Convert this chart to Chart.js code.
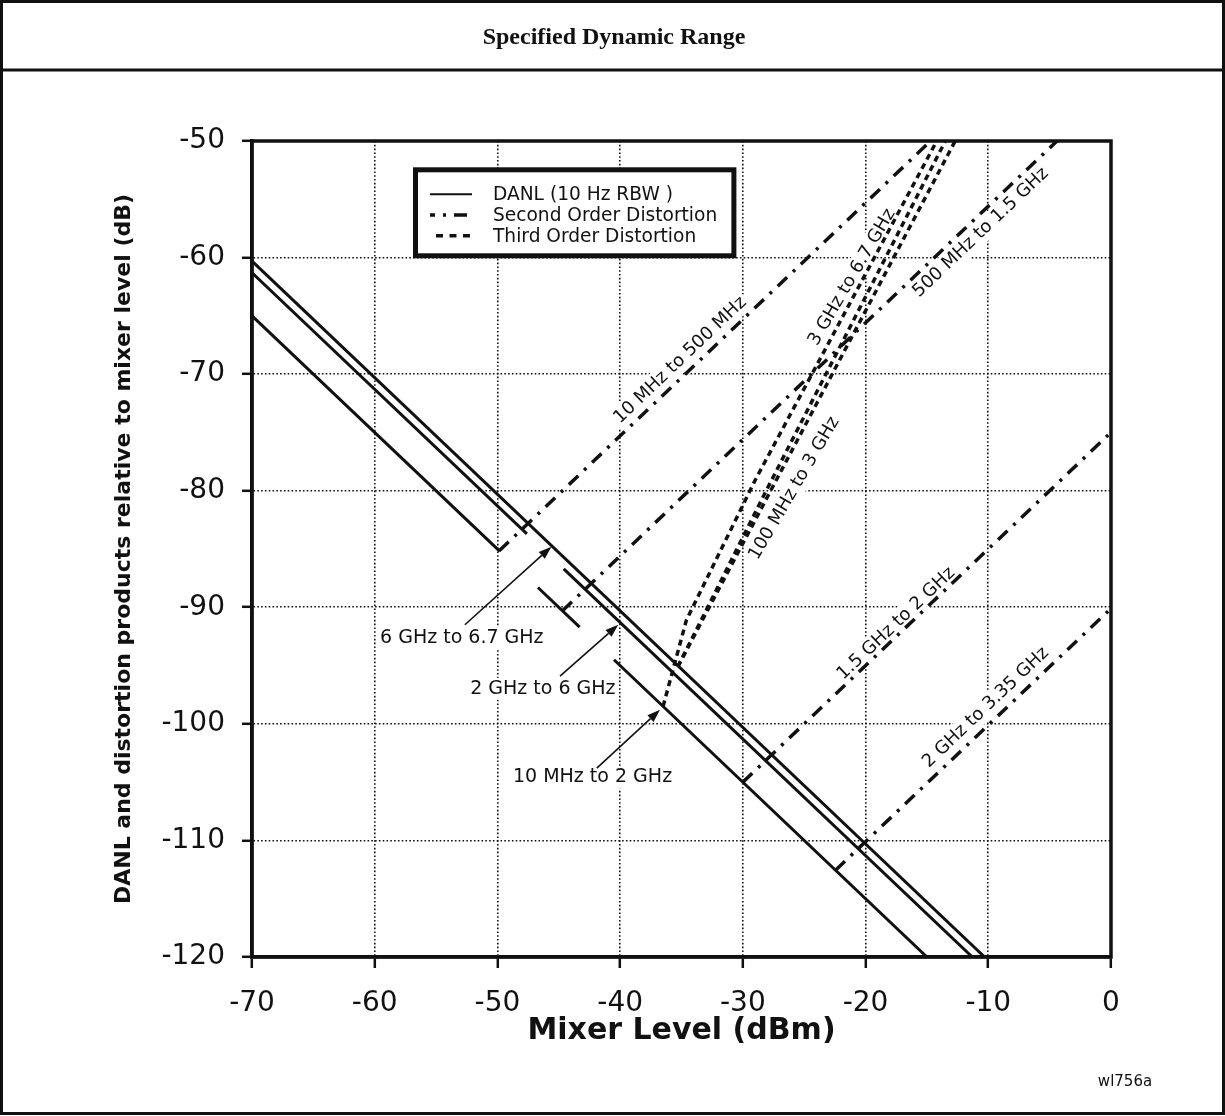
<!DOCTYPE html>
<html>
<head>
<meta charset="utf-8">
<title>Specified Dynamic Range</title>
<script src="https://cdn.jsdelivr.net/npm/chart.js@4.4.0/dist/chart.umd.min.js"></script>
<style>
  body { margin: 0; background: #fff; }
  canvas { display: block; }
</style>
</head>
<body>
<canvas id="grafico" width="1225" height="1116"></canvas>
<script>
// DANL (10 Hz RBW), x = mixer level (dBm), y = dB; null leaves a gap
const danl6a67X = [-70, -10.3];
const danl6a67Y = [-60.3, -120];
const danl2a6X = [-70, -47.6, -46, -44.6, -11.3];
const danl2a6Y = [-61.3, -83.7, null, -86.7, -120];
const danl10a2X = [-70, -49.8, -48, -46.7, -43.3, -42, -40.5, -15];
const danl10a2Y = [-65, -85.2, null, -88.3, -91.7, null, -94.5, -120];

// second order distortion
const so10a500X = [-49.85, -14.7];
const so10a500Y = [-85.15, -50];
const so500a15X = [-44.7, -4.4];
const so500a15Y = [-90.3, -50];
const so15a2X = [-30, 0];
const so15a2Y = [-105, -75];
const so2a335X = [-22.45, 0];
const so2a335Y = [-112.55, -90.1];

// third order distortion
const to1X = [-36.5, -34.6, -29.0, -14.2];
const to1Y = [-98.5, -91.1, -79.1, -50];
const to2X = [-35.3, -28.05, -13.5];
const to2Y = [-95.1, -79.9, -50];
const to3X = [-35.3, -12.7];
const to3Y = [-95.1, -50];

// ticks
const xTicks = [-70, -60, -50, -40, -30, -20, -10, 0];
const yTicks = [-120, -110, -100, -90, -80, -70, -60, -50];

// labels along the lines
const rotuloTexto = ["10 MHz to 500 MHz", "500 MHz to 1.5 GHz", "1.5 GHz to 2 GHz", "2 GHz to 3.35 GHz", "3 GHz to 6.7 GHz", "100 MHz to 3 GHz"];
const rotuloX = [-35.1, -10.6, -17.5, -10.2, -21.1, -25.8];
const rotuloY = [-68.8, -57.85, -91.4, -98.6, -61.7, -79.8];
const rotuloInclinacao = [1, 1, 1, 1, 1.8, 1.8];

// DANL labels with arrows
const setaTexto = ["6 GHz to 6.7 GHz", "2 GHz to 6 GHz", "10 MHz to 2 GHz"];
const setaTextoX = [-52.9, -46.3, -42.25];
const setaTextoY = [-92.65, -97.0, -104.6];
const setaX0 = [-52.65, -44.9, -41.9];
const setaY0 = [-91.5, -95.9, -103.8];
const setaX1 = [-45.6, -40.15, -36.75];
const setaY1 = [-84.8, -91.5, -98.8];

const legendaTexto = ["DANL (10 Hz RBW )", "Second Order Distortion", "Third Order Distortion"];

const corTinta = "#111";
const fonteSans = "DejaVu Sans";

const pontos = (xs, ys) => xs.map((x, i) => ({ x: x, y: ys[i] }));

const estiloDanl = { borderWidth: 3 };
const estiloSegunda = { borderWidth: 3.5, borderDash: [13, 8, 3, 8] };
const estiloTerceira = { borderWidth: 3.5, borderDash: [6, 4.5] };

function serie(label, xs, ys, estilo) {
  return Object.assign(
    {
      label: label,
      data: pontos(xs, ys),
      showLine: true,
      pointRadius: 0,
      pointHoverRadius: 0,
      borderColor: corTinta,
      backgroundColor: corTinta,
      fill: false,
      tension: 0,
      spanGaps: false,
    },
    estilo
  );
}

function pixel(chart, x, y) {
  return [chart.scales.x.getPixelForValue(x), chart.scales.y.getPixelForValue(y)];
}

function anguloDe(chart, inclinacao) {
  var dx = chart.scales.x.getPixelForValue(10) - chart.scales.x.getPixelForValue(0);
  var dy = chart.scales.y.getPixelForValue(inclinacao * 10) - chart.scales.y.getPixelForValue(0);
  return Math.atan2(dy, dx);
}

function cadaRotulo(chart, fn) {
  for (var i = 0; i < rotuloTexto.length; i++) {
    var p = pixel(chart, rotuloX[i], rotuloY[i]);
    fn(rotuloTexto[i], p[0], p[1], anguloDe(chart, rotuloInclinacao[i]), 18);
  }
  for (var j = 0; j < setaTexto.length; j++) {
    var q = pixel(chart, setaTextoX[j], setaTextoY[j]);
    fn(setaTexto[j], q[0], q[1], 0, 19);
  }
}

function caixaLegenda(chart) {
  var a = chart.chartArea;
  return { x: a.left + 163.5, y: a.top + 28.8, w: 318.4, h: 86 };
}

const pluginDesenho = {
  id: "desenho",
  beforeDatasetsDraw(chart) {
    var ctx = chart.ctx;
    ctx.save();
    ctx.fillStyle = "#fff";
    cadaRotulo(chart, function (texto, x, y, ang, tam) {
      ctx.font = tam + "px '" + fonteSans + "'";
      var w = ctx.measureText(texto).width;
      ctx.save();
      ctx.translate(x, y);
      ctx.rotate(ang);
      ctx.fillRect(-w / 2 - 3, -11, w + 6, 22);
      ctx.restore();
    });
    var c = caixaLegenda(chart);
    ctx.fillRect(c.x, c.y, c.w, c.h);
    ctx.restore();
  },
  afterDatasetsDraw(chart) {
    var ctx = chart.ctx;
    var a = chart.chartArea;
    ctx.save();

    // plot frame
    ctx.setLineDash([]);
    ctx.strokeStyle = corTinta;
    ctx.lineWidth = 3.5;
    ctx.strokeRect(a.left, a.top, a.right - a.left, a.bottom - a.top);

    // labels
    ctx.fillStyle = corTinta;
    ctx.textAlign = "center";
    ctx.textBaseline = "middle";
    cadaRotulo(chart, function (texto, x, y, ang, tam) {
      ctx.font = tam + "px '" + fonteSans + "'";
      ctx.save();
      ctx.translate(x, y);
      ctx.rotate(ang);
      ctx.fillText(texto, 0, 0);
      ctx.restore();
    });

    // arrows
    ctx.lineWidth = 1.6;
    for (var i = 0; i < setaTexto.length; i++) {
      var p0 = pixel(chart, setaX0[i], setaY0[i]);
      var p1 = pixel(chart, setaX1[i], setaY1[i]);
      var ang = Math.atan2(p1[1] - p0[1], p1[0] - p0[0]);
      var bx = p1[0] - 13 * Math.cos(ang);
      var by = p1[1] - 13 * Math.sin(ang);
      ctx.beginPath();
      ctx.moveTo(p0[0], p0[1]);
      ctx.lineTo(bx, by);
      ctx.stroke();
      ctx.beginPath();
      ctx.moveTo(p1[0], p1[1]);
      ctx.lineTo(bx + 4.5 * Math.sin(ang), by - 4.5 * Math.cos(ang));
      ctx.lineTo(bx - 4.5 * Math.sin(ang), by + 4.5 * Math.cos(ang));
      ctx.closePath();
      ctx.fill();
    }

    // legend box
    var c = caixaLegenda(chart);
    ctx.lineWidth = 5;
    ctx.strokeRect(c.x, c.y, c.w, c.h);
    var ds = chart.data.datasets;
    var amostras = [ds[0], ds[3], ds[7]];
    var deslocamento = [0, 8, 0];
    var inicio = [430, 430, 436];
    ctx.textAlign = "left";
    ctx.font = "18.6px '" + fonteSans + "'";
    for (var k = 0; k < 3; k++) {
      var ly = a.top + 53.3 + k * 20.7;
      ctx.save();
      ctx.lineWidth = k == 0 ? 2 : amostras[k].borderWidth;
      ctx.setLineDash(k == 2 ? [7, 6.5] : amostras[k].borderDash || []);
      ctx.lineDashOffset = deslocamento[k];
      ctx.beginPath();
      ctx.moveTo(a.left - 252 + inicio[k], ly);
      ctx.lineTo(a.left - 252 + 472, ly);
      ctx.stroke();
      ctx.restore();
      ctx.fillText(legendaTexto[k], a.left - 252 + 493, ly + 1);
    }
    ctx.restore();
  },
  afterDraw(chart) {
    var ctx = chart.ctx;
    ctx.save();
    ctx.strokeStyle = corTinta;
    ctx.lineWidth = 3;
    ctx.strokeRect(1.5, 1.5, 1222, 1112);
    ctx.beginPath();
    ctx.moveTo(1.5, 70);
    ctx.lineTo(1223.5, 70);
    ctx.stroke();
    ctx.fillStyle = corTinta;
    ctx.textAlign = "center";
    ctx.textBaseline = "middle";
    ctx.font = "bold 24px 'Liberation Serif'";
    ctx.fillText("Specified Dynamic Range", 614, 38);
    ctx.font = "15px '" + fonteSans + "'";
    ctx.fillText("wl756a", 1125, 1082);
    ctx.restore();
  },
};

var dados = {
  datasets: [
    serie("DANL 6 GHz to 6.7 GHz", danl6a67X, danl6a67Y, estiloDanl),
    serie("DANL 2 GHz to 6 GHz", danl2a6X, danl2a6Y, estiloDanl),
    serie("DANL 10 MHz to 2 GHz", danl10a2X, danl10a2Y, estiloDanl),
    serie("SOD 10 MHz to 500 MHz", so10a500X, so10a500Y, estiloSegunda),
    serie("SOD 500 MHz to 1.5 GHz", so500a15X, so500a15Y, estiloSegunda),
    serie("SOD 1.5 GHz to 2 GHz", so15a2X, so15a2Y, estiloSegunda),
    serie("SOD 2 GHz to 3.35 GHz", so2a335X, so2a335Y, estiloSegunda),
    serie("TOD a", to1X, to1Y, estiloTerceira),
    serie("TOD b", to2X, to2Y, estiloTerceira),
    serie("TOD c", to3X, to3Y, estiloTerceira),
  ],
};

const config = {
  type: "scatter",
  data: dados,
  options: {
    responsive: false,
    animation: false,
    events: [],
    layout: { padding: { left: 0, right: 114, top: 141, bottom: 0 } },
    plugins: {
      legend: { display: false },
      tooltip: { enabled: false },
    },
    scales: {
      x: {
        type: "linear",
        min: -70,
        max: 0,
        afterFit: (s) => {
          s.height = 159;
        },
        afterBuildTicks: (s) => {
          s.ticks = xTicks.map((v) => ({ value: v }));
        },
        ticks: {
          color: corTinta,
          font: { family: fonteSans, size: 28 },
          padding: 19,
          maxRotation: 0,
          callback: (v) => String(v),
        },
        grid: { color: corTinta, lineWidth: 1.6, tickLength: 11, tickColor: corTinta, tickWidth: 2.5, tickBorderDash: [] },
        border: { color: corTinta, width: 3.5, dash: [1.6, 2.2] },
        title: {
          display: true,
          text: "Mixer Level (dBm)",
          color: corTinta,
          font: { family: fonteSans, size: 30, weight: "bold" },
          padding: { top: 0, bottom: 67 },
        },
      },
      y: {
        type: "linear",
        min: -120,
        max: -50,
        afterFit: (s) => {
          s.width = 252;
        },
        afterBuildTicks: (s) => {
          s.ticks = yTicks.map((v) => ({ value: v }));
        },
        ticks: {
          color: corTinta,
          font: { family: fonteSans, size: 28 },
          padding: 17,
          callback: (v) => String(v),
        },
        grid: { color: corTinta, lineWidth: 1.6, tickLength: 10, tickColor: corTinta, tickWidth: 2.5, tickBorderDash: [] },
        border: { color: corTinta, width: 3.5, dash: [1.6, 2.2] },
        title: {
          display: true,
          text: "DANL and distortion products relative to mixer level (dB)",
          color: corTinta,
          font: { family: fonteSans, size: 22, weight: "bold" },
          padding: { top: 111, bottom: 0 },
        },
      },
    },
  },
  plugins: [pluginDesenho],
};

let meuGrafico = new Chart(document.getElementById("grafico"), config);
</script>
</body>
</html>
